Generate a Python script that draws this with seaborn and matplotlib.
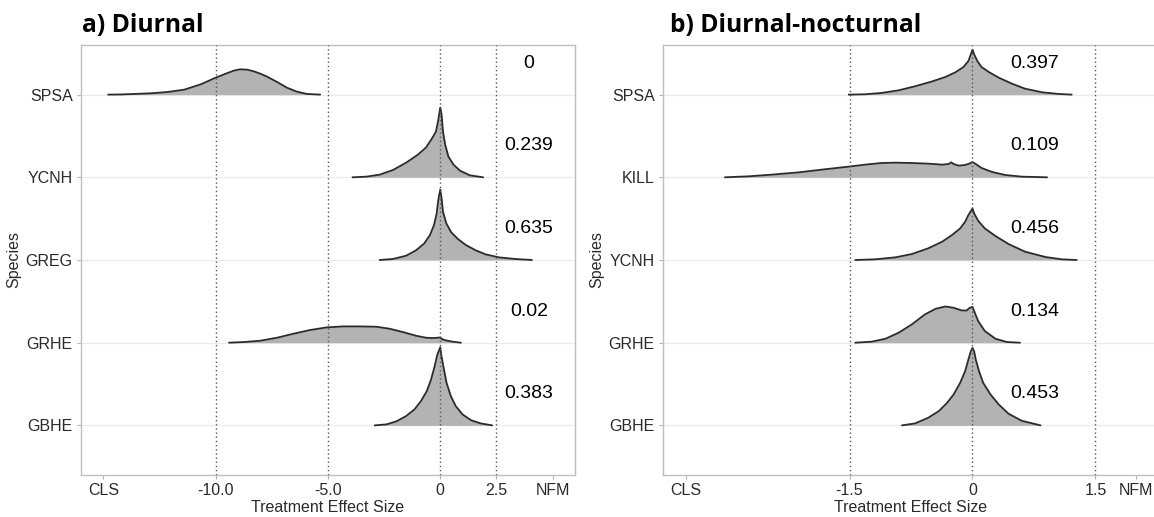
import matplotlib
matplotlib.use("Agg")
import matplotlib.pyplot as plt
import seaborn as sns
import pandas as pd

# ---------------- data ----------------
species_a = ["SPSA", "YCNH", "GREG", "GRHE", "GBHE"]
species_b = ["SPSA", "KILL", "YCNH", "GRHE", "GBHE"]

# panel a) Diurnal : effect-size grid (x) and ridge heights (h, in row units)
a_spsa_x = [-14.79, -14.20, -13.61, -12.88, -12.14, -11.40, -10.66, -10.0, -9.48, -9.19,
            -8.92, -8.60, -8.30, -8.01, -7.71, -7.27, -6.83, -6.39, -5.94, -5.35]
a_spsa_h = [0.0, 0.002, 0.008, 0.016, 0.032, 0.060, 0.125, 0.205, 0.261, 0.290,
            0.306, 0.302, 0.281, 0.253, 0.217, 0.153, 0.084, 0.036, 0.008, 0.0]
a_ycnh_x = [-3.91, -3.29, -2.70, -2.11, -1.52, -1.00, -0.63, -0.34, -0.19, -0.10,
            0.0, 0.06, 0.12, 0.22, 0.36, 0.59, 0.88, 1.32, 1.91]
a_ycnh_h = [0.0, 0.008, 0.032, 0.088, 0.177, 0.273, 0.362, 0.483, 0.555, 0.676,
            0.844, 0.756, 0.555, 0.394, 0.253, 0.153, 0.080, 0.024, 0.0]
a_greg_x = [-2.70, -2.11, -1.52, -1.08, -0.71, -0.46, -0.28, -0.16, -0.09, 0.0,
            0.06, 0.12, 0.27, 0.49, 0.79, 1.14, 1.58, 2.02, 2.61, 3.35, 4.08]
a_greg_h = [0.0, 0.012, 0.052, 0.117, 0.201, 0.302, 0.422, 0.563, 0.724, 0.852,
            0.744, 0.583, 0.442, 0.334, 0.253, 0.181, 0.117, 0.068, 0.032, 0.012, 0.0]
a_grhe_x = [-9.41, -8.75, -8.01, -7.27, -6.53, -5.80, -5.06, -4.32, -3.58, -2.85, -2.26,
            -1.67, -1.08, -0.63, -0.34, -0.12, 0.0, 0.07, 0.25, 0.55, 0.92]
a_grhe_h = [0.0, 0.008, 0.024, 0.060, 0.109, 0.153, 0.185, 0.197, 0.197, 0.193, 0.169,
            0.129, 0.084, 0.060, 0.056, 0.060, 0.064, 0.044, 0.028, 0.012, 0.0]
a_gbhe_x = [-2.92, -2.40, -1.96, -1.52, -1.15, -0.86, -0.60, -0.41, -0.25, -0.13,
            0.0, 0.04, 0.15, 0.28, 0.47, 0.69, 0.99, 1.36, 1.80, 2.31]
a_gbhe_h = [0.0, 0.012, 0.048, 0.113, 0.193, 0.294, 0.414, 0.555, 0.716, 0.856,
            0.945, 0.856, 0.696, 0.515, 0.354, 0.233, 0.133, 0.064, 0.024, 0.0]
a_labels = ["0", "0.239", "0.635", "0.02", "0.383"]

# panel b) Diurnal-nocturnal
b_spsa_x = [-1.51, -1.31, -1.11, -0.90, -0.70, -0.50, -0.33, -0.21, -0.11, -0.05, -0.02,
            0.0, 0.02, 0.06, 0.11, 0.20, 0.32, 0.48, 0.64, 0.85, 1.05, 1.21]
b_spsa_h = [0.0, 0.004, 0.020, 0.052, 0.101, 0.157, 0.213, 0.269, 0.334, 0.406, 0.487,
            0.543, 0.487, 0.406, 0.334, 0.273, 0.205, 0.133, 0.072, 0.028, 0.008, 0.0]
b_kill_x = [-3.02, -2.73, -2.45, -2.12, -1.80, -1.51, -1.31, -1.11, -0.94, -0.74, -0.54,
            -0.37, -0.29, -0.26, -0.23, -0.17, -0.09, -0.03, 0.0, 0.04, 0.11, 0.24,
            0.40, 0.60, 0.91]
b_kill_h = [0.0, 0.012, 0.032, 0.060, 0.097, 0.129, 0.153, 0.173, 0.177, 0.173, 0.165,
            0.153, 0.161, 0.181, 0.161, 0.141, 0.149, 0.169, 0.185, 0.161, 0.113, 0.064,
            0.028, 0.008, 0.0]
b_ycnh_x = [-1.43, -1.19, -0.94, -0.74, -0.54, -0.37, -0.25, -0.15, -0.09, -0.05,
            0.0, 0.02, 0.07, 0.15, 0.28, 0.44, 0.64, 0.89, 1.09, 1.27]
b_ycnh_h = [0.0, 0.008, 0.032, 0.072, 0.141, 0.221, 0.302, 0.382, 0.462, 0.543,
            0.623, 0.563, 0.474, 0.382, 0.290, 0.193, 0.101, 0.036, 0.008, 0.0]
b_grhe_x = [-1.43, -1.23, -1.06, -0.90, -0.74, -0.58, -0.45, -0.33, -0.23, -0.13,
            -0.07, -0.04, 0.0, 0.02, 0.07, 0.15, 0.28, 0.42, 0.58]
b_grhe_h = [0.0, 0.012, 0.048, 0.121, 0.221, 0.342, 0.410, 0.438, 0.422, 0.390,
            0.390, 0.418, 0.434, 0.382, 0.261, 0.141, 0.048, 0.008, 0.0]
b_gbhe_x = [-0.86, -0.70, -0.54, -0.41, -0.31, -0.23, -0.15, -0.09, -0.05, -0.02,
            0.0, 0.02, 0.04, 0.08, 0.13, 0.22, 0.32, 0.44, 0.60, 0.83]
b_gbhe_h = [0.0, 0.024, 0.092, 0.173, 0.273, 0.374, 0.515, 0.655, 0.796, 0.897,
            0.937, 0.897, 0.796, 0.655, 0.515, 0.374, 0.253, 0.141, 0.056, 0.0]
b_labels = ["0.397", "0.109", "0.456", "0.134", "0.453"]

a_ticks = [-15, -10, -5, 0, 2.5, 5]
a_ticklabels = ["CLS", "-10.0", "-5.0", "0", "2.5", "NFM"]
a_vlines = [-10, -5, 0, 2.5]
b_ticks = [-3.5, -1.5, 0, 1.5, 2.0]
b_ticklabels = ["CLS", "-1.5", "0", "1.5", "NFM"]
b_vlines = [-1.5, 0, 1.5]


def long_df(names, xs, hs):
    rows = []
    for n, x, h in zip(names, xs, hs):
        for xi, hi in zip(x, h):
            rows.append((n, xi, hi))
    return pd.DataFrame(rows, columns=["species", "x", "h"])


df_a = long_df(species_a, [a_spsa_x, a_ycnh_x, a_greg_x, a_grhe_x, a_gbhe_x],
               [a_spsa_h, a_ycnh_h, a_greg_h, a_grhe_h, a_gbhe_h])
df_b = long_df(species_b, [b_spsa_x, b_kill_x, b_ycnh_x, b_grhe_x, b_gbhe_x],
               [b_spsa_h, b_kill_h, b_ycnh_h, b_grhe_h, b_gbhe_h])

# ---------------- figure ----------------
sns.set_theme(style="white")
plt.rcParams["font.family"] = ["Liberation Sans", "DejaVu Sans"]

W, H = 1154, 517
fig = plt.figure(figsize=(W / 100, H / 100), dpi=100)
ax_a = fig.add_axes([81 / W, (H - 475) / H, 494 / W, 430 / H])
ax_b = fig.add_axes([663 / W, (H - 475) / H, 496 / W, 430 / H])

FILL = "#b3b3b3"
LINE = "#2b2b2b"
TXT = "#2a2a2a"


def draw_panel(ax, df, names, labels, xlim, ticks, ticklabels, vlines, label_x, title, title_px):
    n = len(names)
    base = {nm: n - i for i, nm in enumerate(names)}
    ax.set_xlim(*xlim)
    ax.set_ylim(0.4, n + 0.6)
    for nm in names:
        ax.axhline(base[nm], color="#ebebeb", lw=1.0, zorder=0)
    for i, nm in enumerate(names):
        sub = df[df.species == nm]
        y0 = base[nm]
        ax.fill_between(sub.x, y0, y0 + sub.h, color=FILL, lw=0, zorder=2 + 2 * i)
        sns.lineplot(x=sub.x, y=y0 + sub.h.values, ax=ax, color=LINE, lw=1.3,
                     sort=False, estimator=None, zorder=3 + 2 * i)
        ax.text(label_x, y0 + 0.38, labels[i], ha="center", va="center",
                fontsize=14, color="black", zorder=20)
    for v in vlines:
        ax.axvline(v, color="#555555", lw=1.0, ls=(0, (1, 2)), zorder=15)
    ax.set_xticks(ticks)
    ax.set_xticklabels(ticklabels)
    ax.set_yticks([base[nm] for nm in names])
    ax.set_yticklabels(names)
    ax.tick_params(axis="both", which="both", labelsize=11.5, colors="#b3b3b3",
                   labelcolor=TXT, length=3, width=0.8, pad=3, bottom=True, left=True)
    ax.set_xlabel("Treatment Effect Size", fontsize=11.5, color=TXT, labelpad=1)
    ax.set_ylabel("Species", fontsize=11.5, color=TXT, labelpad=3)
    for s in ax.spines.values():
        s.set_color("#bfbfbf")
        s.set_linewidth(1.0)
    fig.text(title_px / W, (H - 32) / H, title, fontsize=17.7, fontweight="bold",
             family=["Open Sans", "DejaVu Sans"], ha="left", va="baseline", color="black")


draw_panel(ax_a, df_a, species_a, a_labels, (-16, 6), a_ticks, a_ticklabels, a_vlines,
           3.95, "a) Diurnal", 82)
draw_panel(ax_b, df_b, species_b, b_labels, (-3.775, 2.275), b_ticks, b_ticklabels, b_vlines,
           0.76, "b) Diurnal-nocturnal", 670)

fig.savefig("out.png", dpi=100)
